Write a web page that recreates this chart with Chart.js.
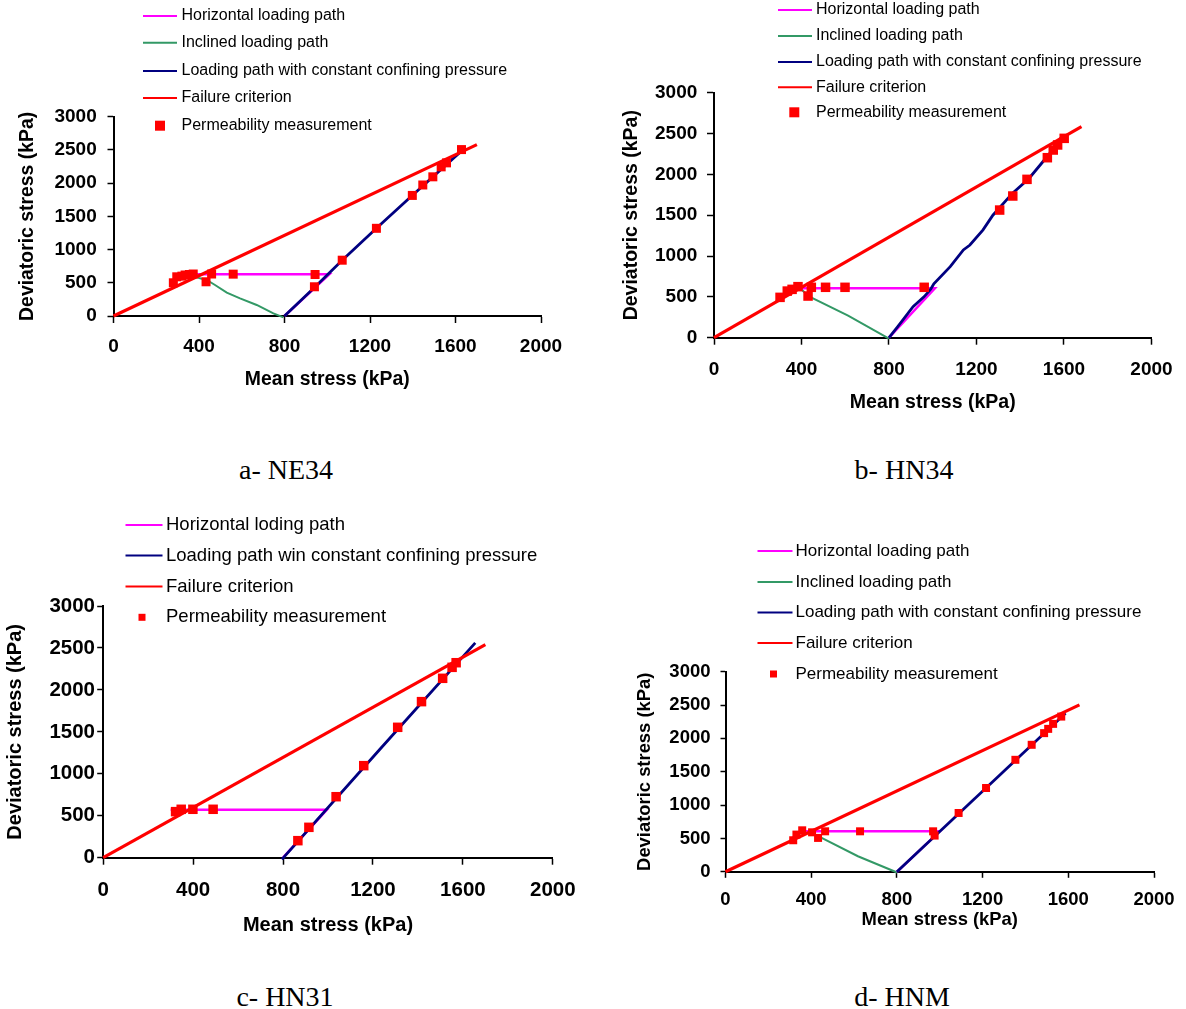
<!DOCTYPE html>
<html>
<head>
<meta charset="utf-8">
<script src="https://cdn.jsdelivr.net/npm/chart.js@4.4.1/dist/chart.umd.min.js"></script>
<style>
  body { margin: 0; background: #fff; width: 1186px; height: 1009px; position: relative; overflow: hidden; }
  canvas { position: absolute; }
  .cap { position: absolute; font-family: 'Liberation Serif', 'Times New Roman', serif; font-size: 28px;
         transform: translate(-50%, -50%); white-space: nowrap; color: #000; }
</style>
</head>
<body>
<canvas id="chartA"></canvas>
<canvas id="chartB"></canvas>
<canvas id="chartC"></canvas>
<canvas id="chartD"></canvas>
<div class="cap" style="left:286px;top:470px">a- NE34</div>
<div class="cap" style="left:904px;top:470px">b- HN34</div>
<div class="cap" style="left:285px;top:997px">c- HN31</div>
<div class="cap" style="left:902px;top:997px">d- HNM</div>

<script>
// axis ticks (same for all four panels)
const xTicks = [0, 400, 800, 1200, 1600, 2000];
const yTicks = [0, 500, 1000, 1500, 2000, 2500, 3000];

// legend texts
const legendFull = ['Horizontal loading path', 'Inclined loading path',
  'Loading path with constant confining pressure', 'Failure criterion', 'Permeability measurement'];
const legendC = ['Horizontal loding path', 'Loading path win constant confining pressure',
  'Failure criterion', 'Permeability measurement'];

// a- NE34  [mean stress, deviatoric stress] in kPa
const neHorizontal = [[800, 0], [1010, 630], [390, 628]];
const neInclined = [[795, -20], [748, 40], [670, 166], [592, 266], [530, 351], [475, 467], [436, 542], [405, 567], [381, 592]];
const neConfining = [[800, 0], [940, 430], [1070, 840], [1230, 1320], [1400, 1820], [1640, 2520]];
const neFailure = [[0, 0], [1700, 2580]];
const nePerm = [[280, 500], [296, 590], [320, 600], [335, 617], [355, 625], [373, 632], [459, 632], [560, 630],
  [943, 625], [433, 515], [940, 440], [1070, 840], [1230, 1320], [1398, 1815], [1447, 1972], [1494, 2095],
  [1533, 2245], [1558, 2305], [1628, 2505]];

// b- HN34
const hn34Horizontal = [[800, 0], [1010, 605], [395, 605]];
const hn34Inclined = [[800, -10], [613, 270], [432, 510], [388, 620]];
const hn34Confining = [[800, 0], [840, 135], [910, 380], [960, 500], [990, 590], [1005, 660], [1080, 870],
  [1140, 1075], [1170, 1135], [1230, 1320], [1275, 1500], [1365, 1770], [1440, 1950], [1530, 2240], [1590, 2460]];
const hn34Failure = [[0, 0], [1680, 2585]];
const hn34Perm = [[302, 494], [335, 571], [357, 592], [384, 625], [445, 617], [430, 510], [510, 617], [599, 617],
  [961, 617], [1306, 1563], [1366, 1735], [1431, 1939], [1524, 2204], [1551, 2298], [1571, 2360], [1601, 2441]];

// c- HN31
const hn31Horizontal = [[800, 0], [995, 572], [300, 572]];
const hn31Confining = [[795, -20], [1230, 1290], [1655, 2560]];
const hn31Failure = [[0, 0], [1700, 2540]];
const hn31Perm = [[322, 549], [347, 577], [399, 577], [489, 577], [866, 203], [915, 362], [1036, 727],
  [1159, 1097], [1310, 1554], [1416, 1860], [1510, 2138], [1552, 2269], [1570, 2324]];

// d- HNM
const hnmHorizontal = [[800, 0], [1000, 607], [360, 607], [305, 490]];
const hnmInclined = [[801, -10], [618, 233], [435, 532], [389, 583]];
const hnmConfining = [[800, 0], [1587, 2378]];
const hnmFailure = [[0, 0], [1652, 2503]];
const hnmPerm = [[316, 473], [331, 558], [358, 622], [404, 592], [432, 508], [465, 607], [628, 607], [969, 607],
  [976, 543], [1088, 882], [1216, 1256], [1353, 1679], [1429, 1904], [1487, 2079], [1506, 2143], [1529, 2218], [1567, 2327]];

const FONT = "'Liberation Sans', Arial, sans-serif";
const styles = {
  horizontal: { color: '#ff00ff', width: 2.5, order: 3 },
  inclined: { color: '#339966', width: 2, order: 4 },
  confining: { color: '#000080', width: 2.8, order: 2 },
  failure: { color: '#ff0000', width: 3.2, order: 1 }
};

function pts(a) { return a.map(p => ({ x: p[0], y: p[1] })); }

// legend drawn at fixed page positions, like the original figure
const pageLegend = {
  id: 'pageLegend',
  afterDraw(chart, args, o) {
    const ctx = chart.ctx;
    ctx.save();
    ctx.font = o.font + 'px ' + FONT;
    ctx.textBaseline = 'middle';
    ctx.fillStyle = '#000';
    o.items.forEach(it => {
      const y = it.y - o.top;
      if (it.kind === 'perm') {
        ctx.fillStyle = '#ff0000';
        const s = o.mark;
        ctx.fillRect(o.markX - o.left - s / 2, y - s / 2, s, s);
        ctx.fillStyle = '#000';
      } else {
        ctx.strokeStyle = styles[it.kind].color;
        ctx.lineWidth = 2;
        ctx.beginPath();
        ctx.moveTo(o.x0 - o.left, y);
        ctx.lineTo(o.x1 - o.left, y);
        ctx.stroke();
      }
      ctx.fillText(it.text, o.tx - o.left, y);
    });
    ctx.restore();
  }
};

function makeChart(id, g, series, legendTexts, legendKinds) {
  const cv = document.getElementById(id);
  cv.width = g.w; cv.height = g.h;
  cv.style.left = g.x + 'px'; cv.style.top = g.y + 'px';

  const datasets = [];
  Object.keys(series).forEach(k => {
    if (k === 'perm') return;
    datasets.push({
      data: pts(series[k]), showLine: true, pointRadius: 0, fill: false,
      borderColor: styles[k].color, borderWidth: styles[k].width, tension: 0,
      order: styles[k].order, clip: false
    });
  });
  datasets.push({
    data: pts(series.perm), showLine: false, pointStyle: 'rect',
    pointRadius: g.mark / (2 * Math.SQRT1_2), pointBackgroundColor: '#ff0000',
    pointBorderWidth: 0, pointBorderColor: '#ff0000', order: 0, clip: false
  });

  const tickFont = { family: FONT, size: g.tickFont, weight: 'bold' };
  const titleFont = { family: FONT, size: g.titleFont, weight: 'bold' };

  new Chart(cv, {
    type: 'scatter',
    data: { datasets },
    options: {
      responsive: false, animation: false, devicePixelRatio: 1,
      layout: { padding: { left: 0, top: g.T - g.y, right: g.x + g.w - g.R, bottom: 0 } },
      plugins: {
        legend: { display: false }, tooltip: { enabled: false },
        pageLegend: {
          left: g.x, top: g.y, font: g.legFont, x0: g.lx0, x1: g.lx1, tx: g.tx,
          markX: g.mx, mark: g.legMark,
          items: legendTexts.map((t, i) => ({ text: t, kind: legendKinds[i], y: g.ly[i] }))
        }
      },
      scales: {
        x: {
          type: 'linear', min: xTicks[0], max: xTicks[xTicks.length - 1],
          afterBuildTicks: s => { s.ticks = xTicks.map(v => ({ value: v })); },
          afterFit: s => { s.height = g.y + g.h - g.B; },
          ticks: { font: tickFont, color: '#000', padding: g.xPad, maxRotation: 0, callback: v => String(v) },
          grid: { drawOnChartArea: false, drawTicks: true, tickLength: g.xTl, tickColor: '#000', tickWidth: 1.5 },
          border: { display: true, color: '#000', width: 2 },
          title: { display: true, text: 'Mean stress (kPa)', font: titleFont, color: '#000', padding: 0 }
        },
        y: {
          type: 'linear', min: yTicks[0], max: yTicks[yTicks.length - 1],
          afterBuildTicks: s => { s.ticks = yTicks.map(v => ({ value: v })); },
          afterFit: s => { s.width = g.L - g.x; },
          ticks: { font: tickFont, color: '#000', padding: g.yPad, callback: v => String(v) },
          grid: { drawOnChartArea: false, drawTicks: true, tickLength: g.yTl, tickColor: '#000', tickWidth: 1.5 },
          border: { display: true, color: '#000', width: 2 },
          title: { display: true, text: 'Deviatoric stress (kPa)', font: titleFont, color: '#000', padding: 0 }
        }
      }
    },
    plugins: [pageLegend]
  });
}

const kindsFull = ['horizontal', 'inclined', 'confining', 'failure', 'perm'];
const kindsC = ['horizontal', 'confining', 'failure', 'perm'];

makeChart('chartA',
  { x: 16, y: 0, w: 584, h: 391, L: 113.5, R: 541, T: 116.7, B: 316, tickFont: 19, titleFont: 19.4,
    xPad: 12.2, xTl: 7, yPad: 10.8, yTl: 6, mark: 9,
    legFont: 16, lx0: 143, lx1: 177, tx: 181.5, ly: [16, 42.7, 71, 98, 125.7], mx: 160, legMark: 10 },
  { horizontal: neHorizontal, inclined: neInclined, confining: neConfining, failure: neFailure, perm: nePerm },
  legendFull, kindsFull);

makeChart('chartB',
  { x: 620, y: 0, w: 566, h: 414, L: 714, R: 1158, T: 92.7, B: 337.7, tickFont: 19, titleFont: 19.5,
    xPad: 13.4, xTl: 7, yPad: 9.7, yTl: 7, mark: 9.5,
    legFont: 16, lx0: 778, lx1: 812, tx: 816, ly: [10, 36, 62, 87.3, 112.3], mx: 794.3, legMark: 10 },
  { horizontal: hn34Horizontal, inclined: hn34Inclined, confining: hn34Confining, failure: hn34Failure, perm: hn34Perm },
  legendFull, kindsFull);

makeChart('chartC',
  { x: 2.5, y: 505, w: 590, h: 432, L: 102.7, R: 552.3, T: 606, B: 857.7, tickFont: 20.5, titleFont: 20,
    xPad: 13, xTl: 7, yPad: 2.2, yTl: 6, mark: 9.5,
    legFont: 18.5, lx0: 125, lx1: 162, tx: 165.5, ly: [525, 555.5, 586.5, 617.3], mx: 141.5, legMark: 7 },
  { horizontal: hn31Horizontal, confining: hn31Confining, failure: hn31Failure, perm: hn31Perm },
  legendC, kindsC);

makeChart('chartD',
  { x: 633.5, y: 530, w: 552.5, h: 401.5, L: 725, R: 1162, T: 671.7, B: 872.3, tickFont: 18.5, titleFont: 18.4,
    xPad: 11.4, xTl: 6, yPad: 10, yTl: 5, mark: 8,
    legFont: 17, lx0: 757, lx1: 792, tx: 795, ly: [551, 582, 612.5, 643, 674], mx: 773, legMark: 7 },
  { horizontal: hnmHorizontal, inclined: hnmInclined, confining: hnmConfining, failure: hnmFailure, perm: hnmPerm },
  legendFull, kindsFull);
</script>
</body>
</html>
